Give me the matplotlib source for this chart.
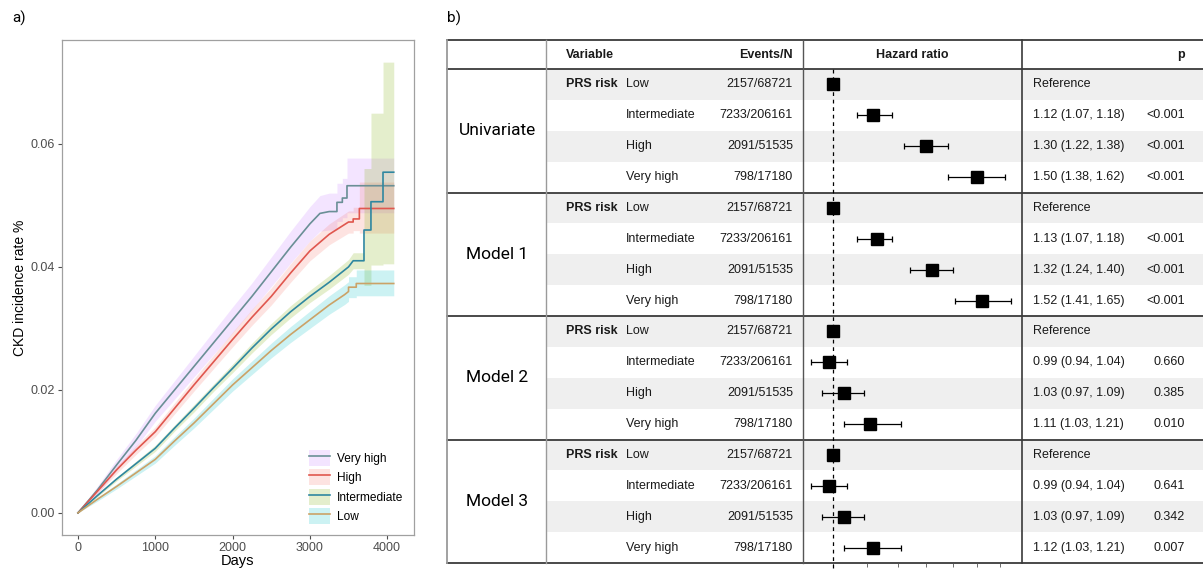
import numpy as np
import matplotlib
matplotlib.use("Agg")
import matplotlib.pyplot as plt
from matplotlib.patches import Patch
from matplotlib.lines import Line2D
from matplotlib.legend_handler import HandlerTuple

# ---------------- panel a data ----------------
days_vh = [0, 250, 500, 750, 1000, 1250, 1500, 1750, 2000, 2250, 2500, 2750, 3000, 3130, 3250,
           3350, 3350, 3420, 3420, 3480, 3480, 4085]
vh = [0, 0.0037, 0.0078, 0.0118, 0.0162, 0.0200, 0.0238, 0.0276, 0.0314, 0.0352, 0.0392, 0.0432,
      0.0470, 0.0487, 0.0490, 0.0490, 0.0505, 0.0505, 0.0512, 0.0512, 0.0532, 0.0532]
vh_lo = [0, 0.0031, 0.0069, 0.0107, 0.0149, 0.0185, 0.0221, 0.0257, 0.0293, 0.0330, 0.0368, 0.0406,
         0.0442, 0.0458, 0.0460, 0.0460, 0.0474, 0.0474, 0.0480, 0.0480, 0.0488, 0.0488]
vh_hi = [0, 0.0043, 0.0087, 0.0129, 0.0175, 0.0215, 0.0255, 0.0295, 0.0335, 0.0374, 0.0416, 0.0458,
         0.0498, 0.0516, 0.0520, 0.0520, 0.0536, 0.0536, 0.0544, 0.0544, 0.0577, 0.0577]

days_h = [0, 250, 500, 750, 1000, 1250, 1500, 1750, 2000, 2250, 2500, 2750, 3000, 3250, 3500,
          3560, 3560, 3640, 3640, 4085]
high = [0, 0.0035, 0.0070, 0.0102, 0.0132, 0.0170, 0.0208, 0.0245, 0.0282, 0.0318, 0.0352, 0.0390,
        0.0426, 0.0453, 0.0473, 0.0473, 0.0478, 0.0478, 0.0495, 0.0495]
high_lo = [0, 0.0031, 0.0064, 0.0095, 0.0124, 0.0161, 0.0198, 0.0234, 0.0270, 0.0305, 0.0338, 0.0375,
           0.0410, 0.0436, 0.0455, 0.0455, 0.0459, 0.0459, 0.0455, 0.0455]
high_hi = [0, 0.0039, 0.0076, 0.0109, 0.0140, 0.0179, 0.0218, 0.0256, 0.0294, 0.0331, 0.0366, 0.0405,
           0.0442, 0.0470, 0.0491, 0.0491, 0.0497, 0.0497, 0.0538, 0.0538]

days_i = [0, 250, 500, 750, 1000, 1250, 1500, 1750, 2000, 2250, 2500, 2750, 3000, 3250, 3500,
          3560, 3700, 3700, 3790, 3790, 3946, 3946, 4085]
inter = [0, 0.0028, 0.0055, 0.0080, 0.0105, 0.0138, 0.0170, 0.0203, 0.0235, 0.0268, 0.0299, 0.0327,
         0.0352, 0.0375, 0.0400, 0.0410, 0.0410, 0.0460, 0.0460, 0.0506, 0.0506, 0.0554, 0.0554]
inter_lo = [0, 0.0026, 0.0052, 0.0076, 0.0100, 0.0133, 0.0164, 0.0197, 0.0228, 0.0260, 0.0290, 0.0317,
            0.0342, 0.0364, 0.0388, 0.0397, 0.0397, 0.0370, 0.0370, 0.0403, 0.0403, 0.0405, 0.0405]
inter_hi = [0, 0.0030, 0.0058, 0.0084, 0.0110, 0.0143, 0.0176, 0.0209, 0.0242, 0.0276, 0.0308, 0.0337,
            0.0362, 0.0386, 0.0412, 0.0423, 0.0423, 0.0560, 0.0560, 0.0650, 0.0650, 0.0733, 0.0733]

days_l = [0, 250, 500, 750, 1000, 1250, 1500, 1750, 2000, 2250, 2500, 2750, 3000, 3250, 3450,
          3500, 3500, 3600, 3600, 4085]
low = [0, 0.0022, 0.0043, 0.0065, 0.0087, 0.0117, 0.0146, 0.0177, 0.0208, 0.0236, 0.0264, 0.0290,
       0.0314, 0.0338, 0.0355, 0.0360, 0.0367, 0.0367, 0.0373, 0.0373]
low_lo = [0, 0.0019, 0.0039, 0.0060, 0.0081, 0.0110, 0.0138, 0.0168, 0.0198, 0.0225, 0.0252, 0.0277,
          0.0300, 0.0323, 0.0339, 0.0344, 0.0350, 0.0350, 0.0353, 0.0353]
low_hi = [0, 0.0025, 0.0047, 0.0070, 0.0093, 0.0124, 0.0154, 0.0186, 0.0218, 0.0247, 0.0276, 0.0303,
          0.0328, 0.0353, 0.0371, 0.0376, 0.0384, 0.0384, 0.0395, 0.0395]

# ---------------- panel b data ----------------
groups = ["Univariate", "Model 1", "Model 2", "Model 3"]
levels = ["Low", "Intermediate", "High", "Very high"]
events = ["2157/68721", "7233/206161", "2091/51535", "798/17180"]
hr = [[1, 1.12, 1.30, 1.50], [1, 1.13, 1.32, 1.52], [1, 0.99, 1.03, 1.11], [1, 0.99, 1.03, 1.12]]
ci_lo = [[np.nan, 1.07, 1.22, 1.38], [np.nan, 1.07, 1.24, 1.41],
         [np.nan, 0.94, 0.97, 1.03], [np.nan, 0.94, 0.97, 1.03]]
ci_hi = [[np.nan, 1.18, 1.38, 1.62], [np.nan, 1.18, 1.40, 1.65],
         [np.nan, 1.04, 1.09, 1.21], [np.nan, 1.04, 1.09, 1.21]]
pvals = [["", "<0.001", "<0.001", "<0.001"], ["", "<0.001", "<0.001", "<0.001"],
         ["", "0.660", "0.385", "0.010"], ["", "0.641", "0.342", "0.007"]]
hr_ticks = [1, 1.1, 1.2, 1.3, 1.4, 1.5, 1.6]

W, H = 1203, 569
plt.rcParams['font.family'] = ['Liberation Sans', 'DejaVu Sans']
fig = plt.figure(figsize=(W / 100, H / 100), dpi=100)

# ---------------- panel a ----------------
ax = fig.add_axes([62 / W, 1 - 535 / H, (414 - 62) / W, (535 - 40) / H])
series = [
    ("Very high", days_vh, vh, vh_lo, vh_hi, "#C77CFF", "#6A8F96"),
    ("High", days_h, high, high_lo, high_hi, "#F8766D", "#E0574E"),
    ("Intermediate", days_i, inter, inter_lo, inter_hi, "#7CAE00", "#2F87A0"),
    ("Low", days_l, low, low_lo, low_hi, "#00BFC4", "#CBA267"),
]
handles = []
for name, d, est, lo_, hi_, fcol, lcol in series:
    ax.fill_between(d, lo_, hi_, color=fcol, alpha=0.2, lw=0)
for name, d, est, lo_, hi_, fcol, lcol in series:
    ax.plot(d, est, color=lcol, lw=1.2)
    handles.append((Patch(facecolor=fcol, alpha=0.2, lw=0), Line2D([], [], color=lcol, lw=1.2)))

ax.set_xlim(-207, 4347)
ax.set_ylim(-0.0036, 0.0769)
ax.set_xticks([0, 1000, 2000, 3000, 4000])
ax.set_yticks([0, 0.02, 0.04, 0.06])
ax.set_yticklabels(["0.00", "0.02", "0.04", "0.06"])
ax.tick_params(colors="#4D4D4D", labelsize=9, length=3, width=0.8, pad=2)
for s in ax.spines.values():
    s.set_color("#A0A0A0")
    s.set_linewidth(0.9)
ax.set_xlabel("Days", fontsize=10.5, labelpad=0)
ax.set_ylabel("CKD incidence rate %", fontsize=10, labelpad=3)
ax.legend(handles, [s[0] for s in series], handler_map={tuple: HandlerTuple(ndivide=1, pad=0)},
          loc="lower right", bbox_to_anchor=(1.0, 0.0), frameon=False, fontsize=8.6,
          handlelength=1.7, handleheight=1.7, labelspacing=0.28, handletextpad=0.6,
          borderaxespad=0.5)

fig.text(12 / W, 1 - 18 / H, "a)", fontsize=11, va="center", family="Roboto")
fig.text(447 / W, 1 - 18 / H, "b)", fontsize=11, va="center", family="Roboto")

# ---------------- panel b: table ----------------
top_r, bot_r = -1.44, 15.5
rect = [447 / W, (H - 563) / H, (1203 - 447) / W, (563 - 40) / H]
at = fig.add_axes(rect)
at.set_xlim(447, 1203)
at.set_ylim(bot_r, top_r)
at.axis("off")

fs = 9
tc = "#1A1A1A"
for g, gname in enumerate(groups):
    for k, lev in enumerate(levels):
        r = g * 4 + k
        if k % 2 == 0:
            at.axhspan(r - 0.5, r + 0.5, xmin=(546 - 447) / 756, xmax=1, color="#EFEFEF", lw=0, zorder=0)
        if k == 0:
            at.text(566, r, "PRS risk", fontsize=fs, fontweight="bold", va="center", color=tc)
            at.text(1033, r, "Reference", fontsize=fs, va="center", color=tc)
        else:
            at.text(1033, r, f"{hr[g][k]:.2f} ({ci_lo[g][k]:.2f}, {ci_hi[g][k]:.2f})",
                    fontsize=fs, va="center", color=tc)
            at.text(1185, r, pvals[g][k], fontsize=fs, va="center", ha="right", color=tc)
        at.text(626, r, lev, fontsize=fs, va="center", color=tc)
        at.text(793, r, events[k], fontsize=fs, va="center", ha="right", color=tc)
    at.text(497, g * 4 + 1.5, gname, fontsize=12.5, va="center", ha="center", family="Roboto")

hy = (top_r - 0.5) / 2
at.text(566, hy, "Variable", fontsize=fs, fontweight="bold", va="center", color=tc)
at.text(793, hy, "Events/N", fontsize=fs, fontweight="bold", va="center", ha="right", color=tc)
at.text(912, hy, "Hazard ratio", fontsize=fs, fontweight="bold", va="center", ha="center", color=tc)
at.text(1185, hy, "p", fontsize=fs, fontweight="bold", va="center", ha="right", color=tc)

for yl in [top_r, -0.5, 3.5, 7.5, 11.5, bot_r]:
    at.plot([447, 1203], [yl, yl], color="#3A3A3A", lw=1.3, clip_on=False, zorder=3)
for xl, col, lw in [(447, "#9A9A9A", 1.3), (546, "#9A9A9A", 1.0), (803, "#555555", 1.0), (1022, "#3A3A3A", 1.2)]:
    at.plot([xl, xl], [top_r, bot_r], color=col, lw=lw, clip_on=False, zorder=3)

# ---------------- panel b: forest ----------------
af = fig.add_axes([803 / W, (H - 563) / H, (1022 - 803) / W, (563 - 40) / H])
af.set_facecolor("none")
af.set_xscale("log")
af.set_xlim(0.919, 1.70)
af.set_ylim(bot_r, top_r)
for s in af.spines.values():
    s.set_visible(False)
af.set_yticks([])
af.set_xticks(hr_ticks)
af.set_xticklabels([str(t) for t in hr_ticks])
af.minorticks_off()
af.tick_params(axis="x", length=3, width=0.6, colors="#555555", labelsize=5, pad=1)

rows = np.arange(16)
hr_a = np.array(hr).ravel()
lo_a = np.array(ci_lo).ravel()
hi_a = np.array(ci_hi).ravel()
ok = ~np.isnan(lo_a)
af.axvline(1, ymin=-0.01, ymax=(bot_r + 0.5) / (bot_r - top_r), color="black", lw=0.9,
           ls=(0, (3, 3)), clip_on=False)
af.errorbar(hr_a[ok], rows[ok], xerr=[hr_a[ok] - lo_a[ok], hi_a[ok] - hr_a[ok]], fmt="none",
            ecolor="black", elinewidth=0.9, capsize=2.2, capthick=0.9)
af.plot(hr_a, rows, "s", color="black", markersize=8.5, zorder=5)

fig.savefig("out.png", dpi=100)
